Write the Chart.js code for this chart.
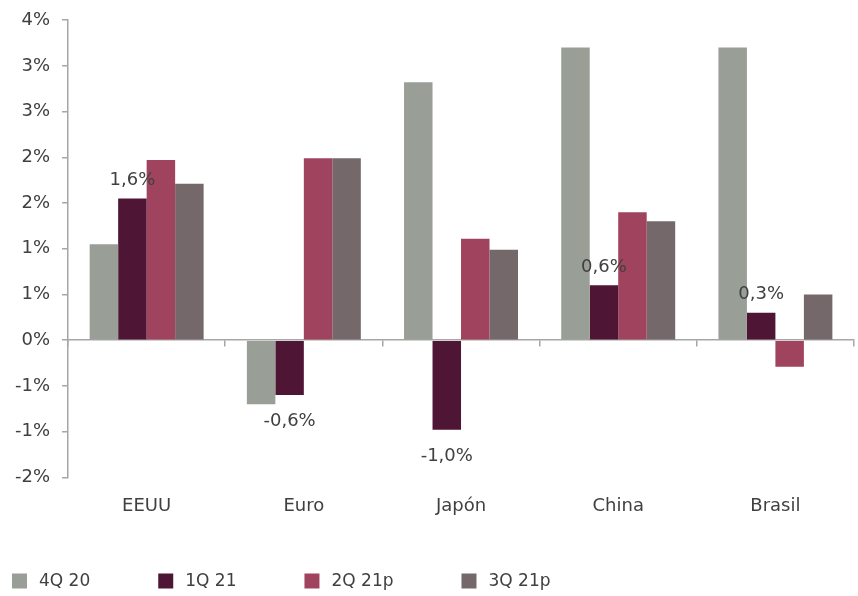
<!DOCTYPE html>
<html>
<head>
<meta charset="utf-8">
<script src="https://cdn.jsdelivr.net/npm/chart.js@4"></script>
<style>
  html, body { margin: 0; padding: 0; background: #fff; }
  #wrap { width: 858px; height: 596px; }
</style>
</head>
<body>
<div id="wrap"><canvas id="growthChart"></canvas></div>
<script>
  // Data
  const categories = ['EEUU', 'Euro', 'Japón', 'China', 'Brasil'];
  const q4_20 = [1.05, -0.70, 2.82, 3.20, 3.20];
  const q1_21 = [1.55, -0.60, -0.98, 0.60, 0.30];
  const q2_21p = [1.97, 1.99, 1.11, 1.40, -0.29];
  const q3_21p = [1.71, 1.99, 0.99, 1.30, 0.50];
  const q1Labels = ['1,6%', '-0,6%', '-1,0%', '0,6%', '0,3%'];
  const tickLabels = ['-2%', '-1%', '-1%', '0%', '1%', '1%', '2%', '2%', '3%', '3%', '4%'];

  const textColor = '#404040';
  const axisColor = '#a6a6a6';
  const fontFamily = '"DejaVu Sans", sans-serif';

  // labels for the 1Q 21 series only
  const valueLabels = {
    id: 'valueLabels',
    afterDatasetsDraw(chart) {
      const meta = chart.getDatasetMeta(1);
      const ctx = chart.ctx;
      ctx.save();
      ctx.font = '18px ' + fontFamily;
      ctx.fillStyle = textColor;
      ctx.textAlign = 'center';
      ctx.textBaseline = 'middle';
      meta.data.forEach((bar, i) => {
        const y = q1_21[i] >= 0 ? bar.y - 18 : bar.y + 26;
        ctx.fillText(q1Labels[i], bar.x, y);
      });
      ctx.restore();
    }
  };

  // legend drawn along the bottom edge, left aligned
  const bottomLegend = {
    id: 'bottomLegend',
    afterDraw(chart) {
      const ctx = chart.ctx;
      const y = chart.height - 15;
      let x = 12;
      ctx.save();
      ctx.font = '17px ' + fontFamily;
      ctx.textBaseline = 'middle';
      ctx.textAlign = 'left';
      chart.data.datasets.forEach(ds => {
        ctx.fillStyle = ds.backgroundColor;
        ctx.fillRect(x, y - 7.5, 15, 15);
        ctx.fillStyle = textColor;
        ctx.fillText(ds.label, x + 27, y + 1);
        x += 27 + ctx.measureText(ds.label).width + 68;
      });
      ctx.restore();
    }
  };

  const ctx = document.getElementById('growthChart').getContext('2d');
  new Chart(ctx, {
    type: 'bar',
    data: {
      labels: categories,
      datasets: [
        { label: '4Q 20', data: q4_20, backgroundColor: '#999f97' },
        { label: '1Q 21', data: q1_21, backgroundColor: '#4e1634' },
        { label: '2Q 21p', data: q2_21p, backgroundColor: '#a0435e' },
        { label: '3Q 21p', data: q3_21p, backgroundColor: '#74686b' }
      ]
    },
    options: {
      responsive: true,
      maintainAspectRatio: false,
      animation: false,
      datasets: {
        bar: { categoryPercentage: 0.725, barPercentage: 1.0 }
      },
      layout: { padding: { left: 3, right: 4, top: 1, bottom: 69 } },
      scales: {
        x: {
          grid: { display: false },
          border: { display: false },
          ticks: { color: textColor, font: { family: fontFamily, size: 18 }, padding: 10 }
        },
        zero: {
          axis: 'x',
          type: 'category',
          labels: categories,
          position: { y: 0 },
          grid: { drawOnChartArea: false, drawTicks: true, tickLength: 6, color: axisColor, lineWidth: 1.5, offset: true },
          border: { display: true, color: axisColor, width: 1.5 },
          ticks: { display: false }
        },
        y: {
          min: -1.5,
          max: 3.5,
          grid: { drawOnChartArea: false, drawTicks: true, tickLength: 6, color: axisColor, lineWidth: 1.5 },
          border: { display: true, color: axisColor, width: 1.5 },
          ticks: {
            stepSize: 0.5,
            padding: 12,
            color: textColor,
            font: { family: fontFamily, size: 18, lineHeight: 0.9 },
            callback: (value, index) => tickLabels[index]
          }
        }
      },
      plugins: {
        legend: { display: false },
        tooltip: { enabled: false }
      }
    },
    plugins: [valueLabels, bottomLegend]
  });
</script>
</body>
</html>
